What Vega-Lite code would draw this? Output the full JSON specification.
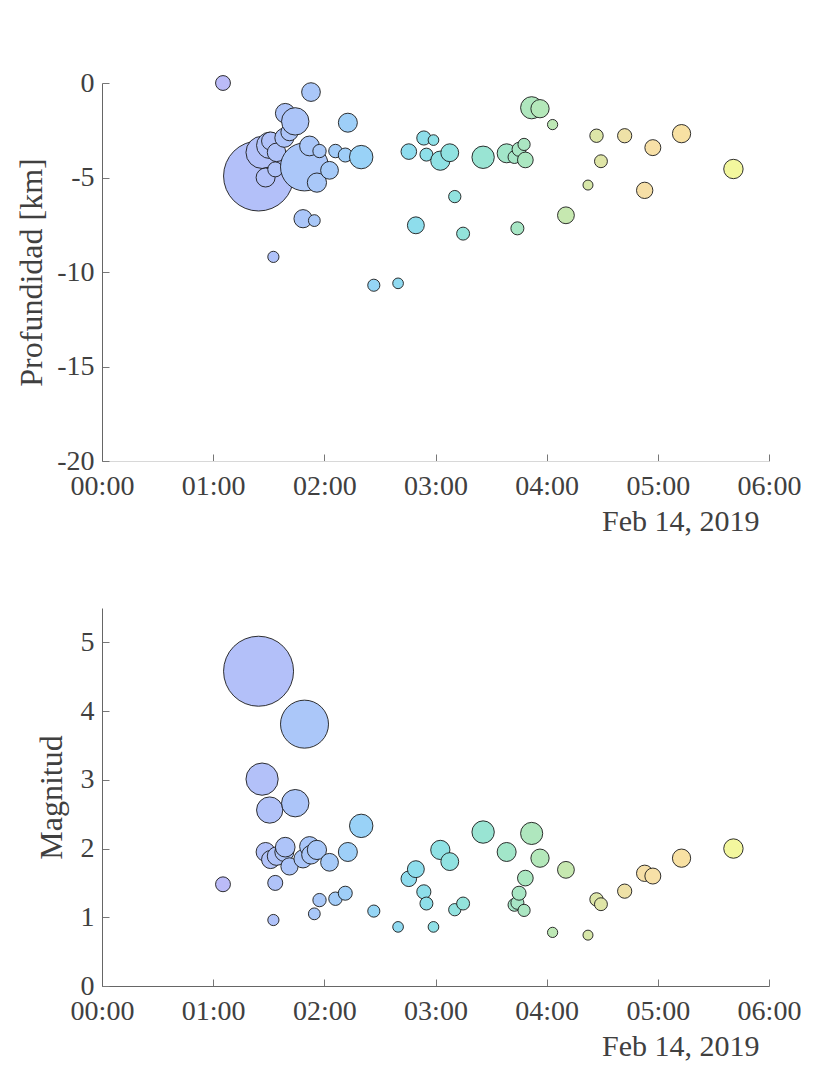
{
  "$schema": "https://vega.github.io/schema/vega-lite/v6.json",
  "description": "Earthquake depth and magnitude over time, Feb 14 2019",
  "padding": {"left": 15, "top": 69, "right": 0, "bottom": 0},
  "background": "white",
  "spacing": 72,
  "config": {
    "view": {"stroke": null},
    "font": "Liberation Serif",
    "axis": {
      "grid": false,
      "labelFontSize": 28,
      "titleFontSize": 32,
      "titleFontWeight": "normal",
      "labelColor": "#404040",
      "titleColor": "#404040",
      "domainColor": "#666666",
      "tickColor": "#777777",
      "tickSize": -7,
      "labelFlush": false,
      "labelOverlap": false
    }
  },
  "datasets": {
    "events": [
      {"t": "2019-02-14T01:05:18Z", "h": 1.088, "depth": 0, "mag": 1.48},
      {"t": "2019-02-14T01:24:30Z", "h": 1.408, "depth": -4.92, "mag": 4.58},
      {"t": "2019-02-14T01:26:24Z", "h": 1.44, "depth": -3.67, "mag": 3.01},
      {"t": "2019-02-14T01:28:18Z", "h": 1.472, "depth": -5.0, "mag": 1.95},
      {"t": "2019-02-14T01:30:30Z", "h": 1.508, "depth": -3.3, "mag": 2.56},
      {"t": "2019-02-14T01:31:00Z", "h": 1.517, "depth": -3.07, "mag": 1.84},
      {"t": "2019-02-14T01:32:30Z", "h": 1.542, "depth": -9.2, "mag": 0.96},
      {"t": "2019-02-14T01:33:30Z", "h": 1.558, "depth": -4.57, "mag": 1.5},
      {"t": "2019-02-14T01:34:12Z", "h": 1.57, "depth": -3.67, "mag": 1.89},
      {"t": "2019-02-14T01:38:24Z", "h": 1.64, "depth": -2.9, "mag": 1.95},
      {"t": "2019-02-14T01:38:54Z", "h": 1.648, "depth": -1.6, "mag": 2.02},
      {"t": "2019-02-14T01:41:12Z", "h": 1.687, "depth": -2.6, "mag": 1.74},
      {"t": "2019-02-14T01:44:18Z", "h": 1.738, "depth": -2.03, "mag": 2.66},
      {"t": "2019-02-14T01:48:30Z", "h": 1.808, "depth": -7.18, "mag": 1.85},
      {"t": "2019-02-14T01:49:18Z", "h": 1.822, "depth": -4.44, "mag": 3.81},
      {"t": "2019-02-14T01:52:00Z", "h": 1.867, "depth": -3.33, "mag": 2.03},
      {"t": "2019-02-14T01:52:48Z", "h": 1.88, "depth": -0.48, "mag": 1.91},
      {"t": "2019-02-14T01:54:36Z", "h": 1.91, "depth": -7.28, "mag": 1.05},
      {"t": "2019-02-14T01:56:00Z", "h": 1.933, "depth": -5.27, "mag": 1.98},
      {"t": "2019-02-14T01:57:24Z", "h": 1.957, "depth": -3.6, "mag": 1.25},
      {"t": "2019-02-14T02:02:48Z", "h": 2.047, "depth": -4.62, "mag": 1.8},
      {"t": "2019-02-14T02:06:00Z", "h": 2.1, "depth": -3.6, "mag": 1.27},
      {"t": "2019-02-14T02:11:18Z", "h": 2.188, "depth": -3.81, "mag": 1.35},
      {"t": "2019-02-14T02:12:42Z", "h": 2.212, "depth": -2.1, "mag": 1.95},
      {"t": "2019-02-14T02:19:54Z", "h": 2.332, "depth": -3.92, "mag": 2.33},
      {"t": "2019-02-14T02:26:42Z", "h": 2.445, "depth": -10.7, "mag": 1.09},
      {"t": "2019-02-14T02:39:48Z", "h": 2.663, "depth": -10.6, "mag": 0.86},
      {"t": "2019-02-14T02:45:36Z", "h": 2.76, "depth": -3.63, "mag": 1.56},
      {"t": "2019-02-14T02:49:24Z", "h": 2.823, "depth": -7.53, "mag": 1.7},
      {"t": "2019-02-14T02:53:42Z", "h": 2.895, "depth": -2.91, "mag": 1.37},
      {"t": "2019-02-14T02:55:06Z", "h": 2.918, "depth": -3.79, "mag": 1.2},
      {"t": "2019-02-14T02:58:54Z", "h": 2.982, "depth": -3.02, "mag": 0.86},
      {"t": "2019-02-14T03:02:36Z", "h": 3.043, "depth": -4.11, "mag": 1.98},
      {"t": "2019-02-14T03:07:42Z", "h": 3.128, "depth": -3.69, "mag": 1.81},
      {"t": "2019-02-14T03:10:24Z", "h": 3.173, "depth": -6.01, "mag": 1.11},
      {"t": "2019-02-14T03:14:54Z", "h": 3.248, "depth": -7.97, "mag": 1.2},
      {"t": "2019-02-14T03:25:42Z", "h": 3.428, "depth": -3.93, "mag": 2.24},
      {"t": "2019-02-14T03:38:24Z", "h": 3.64, "depth": -3.72, "mag": 1.95},
      {"t": "2019-02-14T03:42:36Z", "h": 3.71, "depth": -3.92, "mag": 1.18},
      {"t": "2019-02-14T03:44:12Z", "h": 3.737, "depth": -7.69, "mag": 1.21},
      {"t": "2019-02-14T03:45:06Z", "h": 3.752, "depth": -3.51, "mag": 1.35},
      {"t": "2019-02-14T03:47:48Z", "h": 3.797, "depth": -3.25, "mag": 1.1},
      {"t": "2019-02-14T03:48:30Z", "h": 3.808, "depth": -4.07, "mag": 1.57},
      {"t": "2019-02-14T03:51:54Z", "h": 3.865, "depth": -1.31, "mag": 2.22},
      {"t": "2019-02-14T03:56:24Z", "h": 3.94, "depth": -1.36, "mag": 1.86},
      {"t": "2019-02-14T04:03:12Z", "h": 4.053, "depth": -2.2, "mag": 0.78},
      {"t": "2019-02-14T04:10:24Z", "h": 4.173, "depth": -7.0, "mag": 1.69},
      {"t": "2019-02-14T04:22:18Z", "h": 4.372, "depth": -5.4, "mag": 0.74},
      {"t": "2019-02-14T04:26:54Z", "h": 4.448, "depth": -2.79, "mag": 1.26},
      {"t": "2019-02-14T04:29:18Z", "h": 4.488, "depth": -4.14, "mag": 1.19},
      {"t": "2019-02-14T04:42:06Z", "h": 4.702, "depth": -2.79, "mag": 1.38},
      {"t": "2019-02-14T04:52:54Z", "h": 4.882, "depth": -5.68, "mag": 1.64},
      {"t": "2019-02-14T04:57:18Z", "h": 4.955, "depth": -3.42, "mag": 1.6},
      {"t": "2019-02-14T05:12:48Z", "h": 5.213, "depth": -2.68, "mag": 1.86},
      {"t": "2019-02-14T05:40:48Z", "h": 5.68, "depth": -4.55, "mag": 2.0}
    ]
  },
  "vconcat": [
    {
      "width": 667,
      "height": 378,
      "data": {"name": "events"},
      "mark": {"type": "circle", "opacity": 1, "stroke": "#1a1a1a", "strokeWidth": 0.9, "clip": false},
      "encoding": {
        "x": {
          "field": "t", "type": "temporal",
          "scale": {"type": "utc", "domain": [1550102400000, 1550124000000]},
          "axis": {
            "format": "%H:%M",
            "values": [1550102400000, 1550106000000, 1550109600000, 1550113200000, 1550116800000, 1550120400000, 1550124000000],
            "title": "Feb 14, 2019", "titleFontSize": 30, "titleAlign": "right", "titleAnchor": "end",
            "titleX": 657, "titleY": 45, "labelPadding": 18, "domainColor": "#d8d8d8"
          }
        },
        "y": {
          "field": "depth", "type": "quantitative",
          "scale": {"domain": [-20, 0], "nice": false},
          "axis": {
            "values": [0, -5, -10, -15, -20], "labelExpr": "'' + datum.value",
            "title": "Profundidad [km]", "labelPadding": 15, "titlePadding": 8
          }
        },
        "size": {
          "field": "mag", "type": "quantitative", "legend": null,
          "scale": {
            "zero": false,
            "domain": [0.74, 1, 1.5, 2, 2.33, 2.66, 3, 3.81, 4.58],
            "range": [100, 130, 225, 376, 548, 751, 1024, 2304, 4900]
          }
        },
        "color": {
          "field": "h", "type": "quantitative", "legend": null,
          "scale": {
            "zero": false,
            "domain": [1.09, 2, 3, 3.75, 4.33, 4.83, 5.33, 5.68],
            "range": ["#bbbbf8", "#a8c9f8", "#8fe0e6", "#a8e6c4", "#d4e8aa", "#f6dfa8", "#f8e2a2", "#f3f79e"]
          }
        }
      }
    },
    {
      "width": 667,
      "height": 378,
      "data": {"name": "events"},
      "mark": {"type": "circle", "opacity": 1, "stroke": "#1a1a1a", "strokeWidth": 0.9, "clip": false},
      "encoding": {
        "x": {
          "field": "t", "type": "temporal",
          "scale": {"type": "utc", "domain": [1550102400000, 1550124000000]},
          "axis": {
            "format": "%H:%M",
            "values": [1550102400000, 1550106000000, 1550109600000, 1550113200000, 1550116800000, 1550120400000, 1550124000000],
            "title": "Feb 14, 2019", "titleFontSize": 30, "titleAlign": "right", "titleAnchor": "end",
            "titleX": 657, "titleY": 45, "labelPadding": 18
          }
        },
        "y": {
          "field": "mag", "type": "quantitative",
          "scale": {"domain": [0, 5.5], "nice": false},
          "axis": {
            "values": [0, 1, 2, 3, 4, 5],
            "title": "Magnitud", "labelPadding": 15, "titlePadding": 12
          }
        },
        "size": {
          "field": "mag", "type": "quantitative", "legend": null,
          "scale": {
            "zero": false,
            "domain": [0.74, 1, 1.5, 2, 2.33, 2.66, 3, 3.81, 4.58],
            "range": [100, 130, 225, 376, 548, 751, 1024, 2304, 4900]
          }
        },
        "color": {
          "field": "h", "type": "quantitative", "legend": null,
          "scale": {
            "zero": false,
            "domain": [1.09, 2, 3, 3.75, 4.33, 4.83, 5.33, 5.68],
            "range": ["#bbbbf8", "#a8c9f8", "#8fe0e6", "#a8e6c4", "#d4e8aa", "#f6dfa8", "#f8e2a2", "#f3f79e"]
          }
        }
      }
    }
  ]
}
